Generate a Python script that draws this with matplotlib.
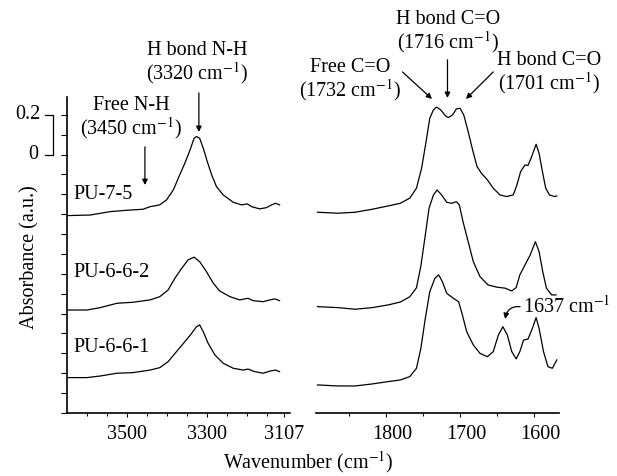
import numpy as np
import matplotlib
matplotlib.use("Agg")
import matplotlib.pyplot as plt
import matplotlib.transforms as mtransforms

plt.rcParams['font.family'] = ['Liberation Serif', 'DejaVu Serif']
plt.rcParams['mathtext.fontset'] = 'stix'
plt.rcParams['font.size'] = 14.5

# ---- datos (numero de onda, absorbancia desplazada) ----
# region N-H
wn_nh_75 = [3650, 3592, 3542, 3500, 3460, 3442, 3418, 3401, 3384, 3368, 3355, 3342, 3332,
            3326, 3318, 3309, 3299, 3288, 3276, 3259, 3234, 3213, 3199, 3188, 3168, 3151,
            3138, 3128, 3118]
ab_nh_75 = [0.993, 0.996, 1.013, 1.020, 1.025, 1.038, 1.047, 1.072, 1.122, 1.198, 1.257, 1.324, 1.382,
            1.391, 1.382, 1.332, 1.265, 1.198, 1.139, 1.097, 1.060, 1.047, 1.052, 1.038, 1.027, 1.033,
            1.047, 1.055, 1.047]

wn_nh_662 = [3647, 3600, 3567, 3525, 3485, 3442, 3418, 3397, 3380, 3363, 3347, 3332, 3318,
             3301, 3284, 3268, 3242, 3218, 3197, 3184, 3159, 3142, 3130, 3118]
ab_nh_662 = [0.518, 0.518, 0.530, 0.552, 0.557, 0.569, 0.585, 0.619, 0.678, 0.728, 0.770, 0.784, 0.761,
             0.711, 0.653, 0.614, 0.585, 0.569, 0.577, 0.565, 0.560, 0.569, 0.574, 0.565]

wn_nh_661 = [3647, 3600, 3567, 3525, 3485, 3442, 3418, 3397, 3376, 3355, 3338, 3326, 3318,
             3309, 3297, 3280, 3259, 3234, 3209, 3197, 3180, 3159, 3142, 3128, 3118]
ab_nh_661 = [0.178, 0.178, 0.186, 0.200, 0.203, 0.216, 0.228, 0.258, 0.309, 0.359, 0.401, 0.434, 0.443,
             0.409, 0.351, 0.292, 0.250, 0.225, 0.216, 0.221, 0.208, 0.200, 0.211, 0.216, 0.208]

# region C=O
wn_co_75 = [1893, 1865, 1842, 1819, 1797, 1781, 1768, 1759, 1752, 1746, 1741, 1736, 1732, 1726,
            1720, 1716, 1710, 1705, 1700, 1695, 1689, 1683, 1677, 1671, 1663, 1655, 1646, 1637,
            1628, 1623, 1618, 1612, 1608, 1603, 1597, 1593, 1588, 1584, 1579, 1572, 1569]
ab_co_75 = [1.010, 1.005, 1.010, 1.025, 1.042, 1.055, 1.081, 1.131, 1.232, 1.365, 1.483, 1.525, 1.539, 1.525,
            1.496, 1.486, 1.500, 1.530, 1.533, 1.500, 1.416, 1.324, 1.240, 1.206, 1.173, 1.131, 1.097, 1.089,
            1.097, 1.147, 1.214, 1.248, 1.245, 1.290, 1.352, 1.307, 1.206, 1.131, 1.097, 1.089, 1.092]

wn_co_662 = [1893, 1865, 1842, 1819, 1797, 1781, 1768, 1759, 1753, 1747, 1742, 1736, 1731, 1725,
             1718, 1711, 1705, 1701, 1696, 1689, 1682, 1673, 1662, 1650, 1639, 1630, 1624, 1619,
             1612, 1605, 1598, 1593, 1588, 1583, 1576, 1570]
ab_co_662 = [0.535, 0.530, 0.522, 0.530, 0.544, 0.558, 0.585, 0.630, 0.740, 0.896, 1.030, 1.097, 1.122, 1.097,
             1.060, 1.055, 1.063, 1.047, 0.963, 0.862, 0.761, 0.686, 0.644, 0.633, 0.628, 0.614, 0.631, 0.695,
             0.745, 0.795, 0.862, 0.812, 0.711, 0.628, 0.594, 0.594]

wn_co_661 = [1893, 1865, 1842, 1819, 1797, 1781, 1768, 1759, 1753, 1747, 1741, 1734, 1729, 1724,
             1718, 1709, 1702, 1698, 1691, 1682, 1673, 1663, 1655, 1648, 1642, 1636, 1630, 1624,
             1619, 1614, 1608, 1602, 1597, 1593, 1587, 1581, 1575, 1569]
ab_co_661 = [0.141, 0.136, 0.136, 0.146, 0.158, 0.166, 0.183, 0.225, 0.326, 0.477, 0.610, 0.678, 0.695, 0.661,
             0.602, 0.577, 0.560, 0.510, 0.409, 0.342, 0.300, 0.283, 0.309, 0.393, 0.434, 0.393, 0.309, 0.272,
             0.309, 0.367, 0.372, 0.426, 0.480, 0.426, 0.309, 0.233, 0.225, 0.267]

muestras = ['PU-7-5', 'PU-6-6-2', 'PU-6-6-1']
y_muestras = [1.097, 0.705, 0.327]
ticks_nh = [3500, 3300, 3107]
ticks_co = [1800, 1700, 1600]

# ---- figura ----
fig = plt.figure(figsize=(6.17, 4.76), dpi=100)
ax1 = fig.add_axes([0.1086, 0.1324, 0.3614, 0.6639])
ax2 = fig.add_axes([0.5122, 0.1324, 0.3938, 0.6639])

for wn, ab in [(wn_nh_75, ab_nh_75), (wn_nh_662, ab_nh_662), (wn_nh_661, ab_nh_661)]:
    ax1.plot(wn, ab, color='black', lw=0.9)
for wn, ab in [(wn_co_75, ab_co_75), (wn_co_662, ab_co_662), (wn_co_661, ab_co_661)]:
    ax2.plot(wn, ab, color='black', lw=0.9)

ax1.set_xlim(3650, 3092)
ax2.set_xlim(1895, 1566)
for ax in (ax1, ax2):
    ax.set_ylim(0, 1.59)
    ax.spines['top'].set_visible(False)
    ax.spines['right'].set_visible(False)
    ax.spines['bottom'].set_linewidth(1.2)
    ax.tick_params(axis='x', direction='out', length=3, width=0.8, pad=6)
    ax.tick_params(axis='x', which='minor', direction='out', length=2, width=0.8)

ax1.spines['left'].set_linewidth(1.2)
ax1.set_yticks(np.arange(0, 1.55, 0.1))
ax1.set_yticklabels([])
ax1.tick_params(axis='y', direction='out', length=4, width=0.8)
ax1.set_xticks(ticks_nh)
ax1.set_xticklabels([str(t) for t in ticks_nh])
ax1.set_xticks([3600, 3550, 3450, 3400, 3350, 3250, 3200, 3150], minor=True)

ax2.spines['left'].set_visible(False)
ax2.set_yticks([])
ax2.set_xticks(ticks_co)
ax2.set_xticklabels([str(t) for t in ticks_co])
ax2.set_xticks([1850, 1750, 1650], minor=True)
# las etiquetas del panel derecho van un poco corridas a la derecha
desplaza = mtransforms.ScaledTranslation(6 / 100, 0, fig.dpi_scale_trans)
for lab in ax2.get_xticklabels():
    lab.set_transform(lab.get_transform() + desplaza)

# barra de escala 0.2
tr = mtransforms.blended_transform_factory(ax1.transAxes, ax1.transData)
ax1.plot([-0.098, -0.063, -0.063, -0.098], [1.5, 1.5, 1.3, 1.3], color='black', lw=0.9,
         transform=tr, clip_on=False)
ax1.text(-0.12, 1.5, '0.2', transform=tr, ha='right', va='center')
ax1.text(-0.13, 1.3, '0', transform=tr, ha='right', va='center')

# nombres de muestras
for nombre, yy in zip(muestras, y_muestras):
    ax1.text(3635, yy, nombre, ha='left', va='center')

flecha = dict(arrowstyle='-|>', color='black', lw=0.9, mutation_scale=8, shrinkA=0, shrinkB=0)

ax1.text(3325, 1.759, 'H bond N-H\n(3320 cm$^{-1}$)', ha='center', va='center', linespacing=1.0)
ax1.annotate('', xy=(3320, 1.414), xytext=(3320, 1.610), arrowprops=flecha, annotation_clip=False)
ax1.text(3490, 1.482, 'Free N-H\n(3450 cm$^{-1}$)', ha='center', va='center', linespacing=1.0)
ax1.annotate('', xy=(3455, 1.147), xytext=(3455, 1.339), arrowprops=flecha, annotation_clip=False)

ax2.text(1716, 1.915, 'H bond C=O\n(1716 cm$^{-1}$)', ha='center', va='center', linespacing=1.0)
ax2.annotate('', xy=(1717, 1.585), xytext=(1717, 1.777), arrowprops=flecha, annotation_clip=False)
ax2.text(1849, 1.671, 'Free C=O\n(1732 cm$^{-1}$)', ha='center', va='center', linespacing=1.0)
ax2.annotate('', xy=(1738, 1.580), xytext=(1778, 1.716), arrowprops=flecha, annotation_clip=False)
ax2.text(1580, 1.706, 'H bond C=O\n(1701 cm$^{-1}$)', ha='center', va='center', linespacing=1.0)
ax2.annotate('', xy=(1692, 1.580), xytext=(1655, 1.716), arrowprops=flecha, annotation_clip=False)

ax2.annotate('1637 cm$^{-1}$', xy=(1639, 0.473), xytext=(1615, 0.533), ha='left', va='center',
             arrowprops=dict(arrowstyle='-|>', color='black', lw=0.9, mutation_scale=8,
                             shrinkA=0, shrinkB=0, relpos=(0, 0.5),
                             connectionstyle='arc3,rad=0.5'),
             annotation_clip=False)

fig.text(30 / 617, 1 - 257 / 476, 'Absorbance (a.u.)', rotation=90, ha='center', va='center')
fig.text(308 / 617, 1 - 462 / 476, 'Wavenumber (cm$^{-1}$)', ha='center', va='center')

fig.savefig('out.png', dpi=100)
